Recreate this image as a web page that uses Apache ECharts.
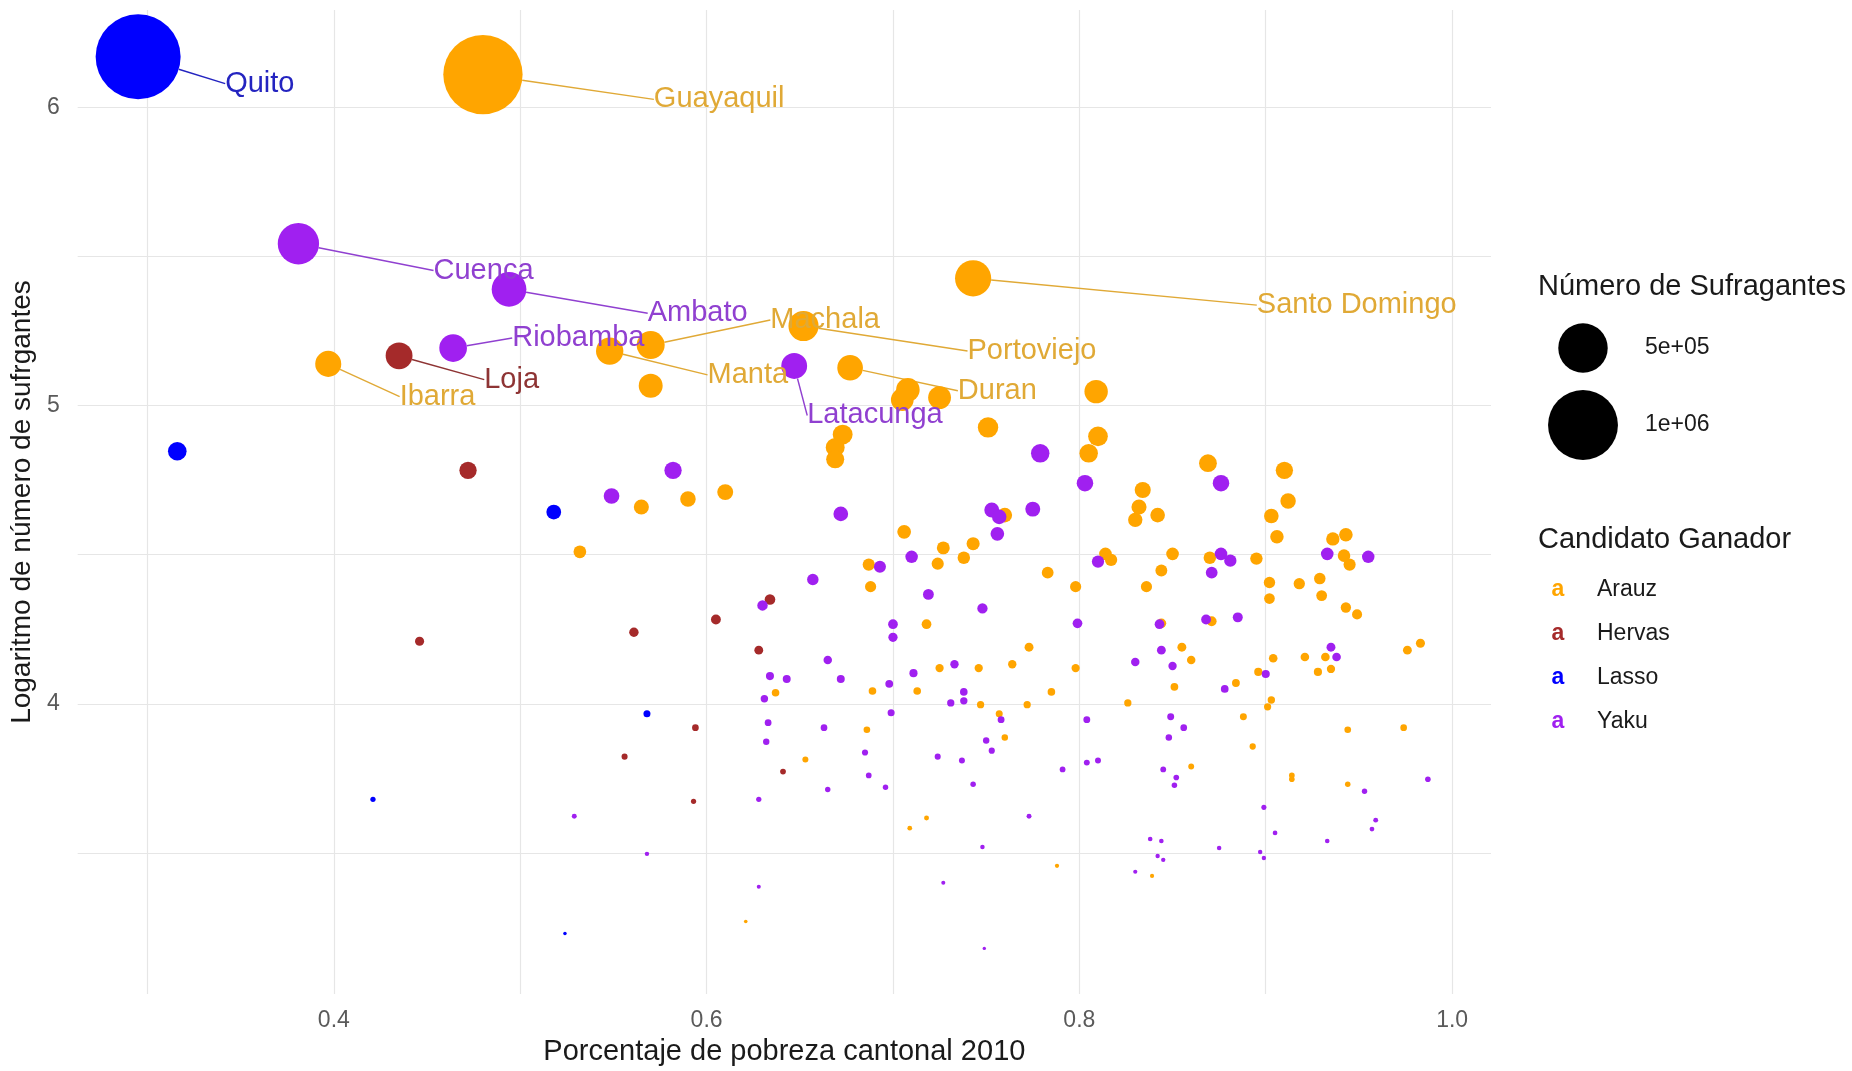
<!DOCTYPE html>
<html>
<head>
<meta charset="utf-8">
<script src="https://cdn.jsdelivr.net/npm/echarts@6/dist/echarts.min.js"></script>
<style>html,body{margin:0;padding:0;background:#fff;}#chart{width:1852px;height:1071px;}</style>
</head>
<body>
<div id="chart"></div>
<script>
// ---- Data: [pobreza 2010, log10(sufragantes), optional label] ----
const candidates = ['Arauz', 'Hervas', 'Lasso', 'Yaku'];

const lasso = [
  [0.295, 6.17, 'Quito'], [0.316, 4.847], [0.518, 4.643], [0.568, 3.967], [0.421, 3.68], [0.524, 3.23]
];

const hervas = [
  [0.435, 5.167, 'Loja'], [0.472, 4.783], [0.446, 4.21], [0.561, 4.24], [0.605, 4.283], [0.634, 4.35],
  [0.628, 4.18], [0.594, 3.92], [0.556, 3.823], [0.641, 3.773], [0.593, 3.673]
];

const yaku = [
  [0.381, 5.543, 'Cuenca'], [0.494, 5.39, 'Ambato'], [0.464, 5.193, 'Riobamba'], [0.647, 5.133, 'Latacunga'],
  [0.582, 4.783], [0.549, 4.697], [0.672, 4.637], [0.753, 4.65], [0.757, 4.627], [0.756, 4.57],
  [0.710, 4.493], [0.693, 4.46], [0.657, 4.417], [0.719, 4.367], [0.748, 4.32], [0.700, 4.267],
  [0.700, 4.223], [0.630, 4.33], [0.665, 4.147], [0.733, 4.133], [0.711, 4.103], [0.634, 4.093],
  [0.643, 4.083], [0.672, 4.083], [0.698, 4.067], [0.631, 4.017], [0.738, 4.04], [0.738, 4.01],
  [0.731, 4.003], [0.758, 3.947], [0.750, 3.877], [0.753, 3.843], [0.633, 3.937], [0.632, 3.873],
  [0.663, 3.92], [0.685, 3.837], [0.687, 3.76], [0.699, 3.97], [0.724, 3.823], [0.737, 3.81], [0.743, 3.73],
  [0.665, 3.713], [0.696, 3.72], [0.628, 3.68], [0.529, 3.623], [0.748, 3.52], [0.568, 3.497],
  [0.628, 3.387], [0.727, 3.40], [0.749, 3.18],
  [0.779, 4.84], [0.803, 4.74], [0.775, 4.653], [0.876, 4.74], [0.933, 4.503], [0.955, 4.493],
  [0.810, 4.477], [0.876, 4.503], [0.881, 4.48], [0.871, 4.44], [0.799, 4.27], [0.843, 4.267],
  [0.868, 4.283], [0.885, 4.29], [0.844, 4.18], [0.830, 4.14], [0.850, 4.127], [0.935, 4.19],
  [0.938, 4.157], [0.900, 4.10], [0.878, 4.05], [0.804, 3.947], [0.849, 3.957], [0.848, 3.887],
  [0.856, 3.92], [0.791, 3.78], [0.804, 3.803], [0.810, 3.81], [0.845, 3.78], [0.852, 3.753],
  [0.851, 3.727], [0.987, 3.747],
  [0.953, 3.707], [0.773, 3.623], [0.899, 3.653], [0.905, 3.567], [0.959, 3.61], [0.957, 3.58],
  [0.933, 3.54], [0.838, 3.547], [0.844, 3.54], [0.875, 3.517], [0.842, 3.49], [0.845, 3.477],
  [0.897, 3.503], [0.899, 3.483], [0.830, 3.437]
];

const arauz = [
  [0.480, 6.11, 'Guayaquil'], [0.743, 5.427, 'Santo Domingo'], [0.652, 5.267, 'Portoviejo'],
  [0.570, 5.203, 'Machala'], [0.548, 5.183, 'Manta'], [0.397, 5.14, 'Ibarra'], [0.677, 5.127, 'Duran'],
  [0.570, 5.067], [0.708, 5.053], [0.705, 5.02], [0.725, 5.027], [0.751, 4.927], [0.673, 4.903],
  [0.669, 4.86], [0.669, 4.82], [0.565, 4.66], [0.590, 4.687], [0.610, 4.71], [0.532, 4.51],
  [0.760, 4.633], [0.706, 4.577], [0.727, 4.523], [0.743, 4.537], [0.738, 4.49], [0.724, 4.47],
  [0.687, 4.467], [0.688, 4.393], [0.718, 4.267], [0.725, 4.12], [0.746, 4.12], [0.764, 4.133],
  [0.689, 4.043], [0.713, 4.043], [0.637, 4.037], [0.747, 3.997], [0.757, 3.967], [0.760, 3.887],
  [0.686, 3.913], [0.653, 3.813], [0.709, 3.583], [0.718, 3.617], [0.621, 3.27],
  [0.809, 5.047], [0.810, 4.897], [0.805, 4.84], [0.869, 4.807], [0.910, 4.783], [0.912, 4.68],
  [0.903, 4.63], [0.906, 4.56], [0.834, 4.717], [0.832, 4.66], [0.830, 4.617], [0.842, 4.633],
  [0.936, 4.553], [0.943, 4.567], [0.942, 4.497], [0.945, 4.467], [0.814, 4.503], [0.817, 4.483],
  [0.850, 4.503], [0.870, 4.49], [0.895, 4.487], [0.844, 4.447], [0.783, 4.44], [0.798, 4.393],
  [0.836, 4.393], [0.902, 4.407], [0.902, 4.353], [0.918, 4.403], [0.929, 4.42], [0.930, 4.363],
  [0.943, 4.323], [0.949, 4.30], [0.844, 4.27], [0.871, 4.277], [0.773, 4.19], [0.798, 4.12],
  [0.855, 4.19], [0.860, 4.147], [0.904, 4.153], [0.921, 4.157], [0.932, 4.157], [0.935, 4.117],
  [0.928, 4.107], [0.976, 4.18], [0.983, 4.203], [0.896, 4.107], [0.785, 4.04], [0.772, 3.997],
  [0.826, 4.003], [0.851, 4.057], [0.884, 4.07], [0.903, 4.013], [0.901, 3.99], [0.888, 3.957],
  [0.893, 3.857], [0.944, 3.913], [0.974, 3.92], [0.860, 3.79], [0.914, 3.76], [0.914, 3.747],
  [0.944, 3.73], [0.788, 3.457], [0.839, 3.423]
];

const xTickLabels = [0.4, 0.6, 0.8, 1.0];
const xGridValues = [0.3, 0.4, 0.5, 0.6, 0.7, 0.8, 0.9, 1.0];
const yTickLabels = [4, 5, 6];
const yGridValues = [3.5, 4, 4.5, 5, 5.5, 6];
const sizeLegendValues = [5e5, 1e6];
const sizeLegendLabels = ['5e+05', '1e+06'];

// label anchor (left-middle of text) in data space, ggrepel-like placement
const labelAnchors = {
  'Quito': [0.3417, 6.08], 'Guayaquil': [0.5717, 6.027], 'Cuenca': [0.4535, 5.453],
  'Ambato': [0.5684, 5.31], 'Machala': [0.6342, 5.287], 'Portoviejo': [0.740, 5.183],
  'Santo Domingo': [0.8952, 5.337], 'Riobamba': [0.4957, 5.227], 'Loja': [0.4807, 5.087],
  'Ibarra': [0.4353, 5.03], 'Manta': [0.6005, 5.103], 'Latacunga': [0.654, 4.967], 'Duran': [0.7348, 5.05]
};

// ---- Styles ----
const pointColor = { Arauz: '#FFA500', Hervas: '#A52A2A', Lasso: '#0000FF', Yaku: '#A020F0' };
const textColor = { Arauz: '#E0A936', Hervas: '#8E3434', Lasso: '#2424C0', Yaku: '#9040D0' };
const FONT = '"Liberation Sans", Arial, sans-serif';

// ggplot-like size scale (area linear in N)
const N_MIN = Math.pow(10, 3.18), N_MAX = Math.pow(10, 6.17), R_MIN = 1.7, R_MAX = 42.5;
function radiusOf(n) {
  const t = Math.max(0, (n - N_MIN) / (N_MAX - N_MIN));
  return Math.sqrt(R_MIN * R_MIN + (R_MAX * R_MAX - R_MIN * R_MIN) * t);
}

const seriesData = { Arauz: arauz, Hervas: hervas, Lasso: lasso, Yaku: yaku };

const chart = echarts.init(document.getElementById('chart'), null, { renderer: 'canvas' });

function buildSeries(anchorPx) {
  return candidates.map(c => ({
    name: c,
    type: 'scatter',
    symbol: 'circle',
    symbolSize: v => 2 * radiusOf(Math.pow(10, v[1])),
    itemStyle: { color: pointColor[c], opacity: 1 },
    emphasis: { disabled: true },
    data: seriesData[c].map(d => {
      const item = { value: [d[0], d[1]] };
      if (d[2]) {
        item.name = d[2];
        item.label = {
          show: true, formatter: d[2], color: textColor[c], fontSize: 29, fontFamily: FONT,
          position: 'right', distance: 0
        };
        item.labelLine = { show: true, length2: 0, lineStyle: { color: textColor[c], width: 1.4 } };
      }
      return item;
    }),
    labelLayout: function (params) {
      if (!anchorPx) return {};
      const item = seriesData[c][params.dataIndex];
      if (!item || !item[2] || !anchorPx[item[2]]) return {};
      const p = anchorPx[item[2]];
      return { x: p[0], y: p[1], align: 'left', verticalAlign: 'middle' };
    }
  }));
}

const legendGraphics = [];
legendGraphics.push({ type: 'text', x: 1538, y: 287, style: { text: 'Número de Sufragantes', fontSize: 29, fontFamily: FONT, fill: '#1a1a1a', verticalAlign: 'middle' } });
const sizeRowsY = [348, 425];
sizeLegendValues.forEach((v, i) => {
  legendGraphics.push({ type: 'circle', shape: { cx: 1583, cy: sizeRowsY[i], r: radiusOf(v) }, style: { fill: '#000' } });
  legendGraphics.push({ type: 'text', x: 1645, y: sizeRowsY[i], style: { text: sizeLegendLabels[i], fontSize: 23, fontFamily: FONT, fill: '#1a1a1a', verticalAlign: 'middle' } });
});
legendGraphics.push({ type: 'text', x: 1538, y: 540, style: { text: 'Candidato Ganador', fontSize: 29, fontFamily: FONT, fill: '#1a1a1a', verticalAlign: 'middle' } });
const candRowsY = [590, 634, 678, 722];
candidates.forEach((c, i) => {
  legendGraphics.push({ type: 'text', x: 1558, y: candRowsY[i], style: { text: 'a', fontSize: 23, fontWeight: 'bold', fontFamily: FONT, fill: pointColor[c], align: 'center', verticalAlign: 'middle' } });
  legendGraphics.push({ type: 'text', x: 1597, y: candRowsY[i], style: { text: c, fontSize: 23, fontFamily: FONT, fill: '#1a1a1a', verticalAlign: 'middle' } });
});

const option = {
  backgroundColor: '#ffffff',
  animation: false,
  grid: { left: 73, right: 361, top: 10, bottom: 71, containLabel: false },
  xAxis: {
    type: 'value', min: 0.26257, max: 1.02086,
    name: 'Porcentaje de pobreza cantonal 2010', nameLocation: 'middle', nameGap: 41,
    nameTextStyle: { fontSize: 29, fontFamily: FONT, color: '#1a1a1a' },
    axisLine: { show: false },
    axisTick: { show: false, customValues: xGridValues },
    axisLabel: { customValues: xTickLabels, formatter: v => v.toFixed(1), fontSize: 23, fontFamily: FONT, color: '#5a5a5a', margin: 15 },
    splitLine: { show: true, lineStyle: { color: '#E6E6E6', width: 1.2 } }
  },
  yAxis: {
    type: 'value', min: 3.0267, max: 6.3267,
    name: 'Logaritmo de número de sufrgantes', nameLocation: 'middle', nameGap: 35,
    nameTextStyle: { fontSize: 28, fontFamily: FONT, color: '#1a1a1a' },
    axisLine: { show: false },
    axisTick: { show: false, customValues: yGridValues },
    axisLabel: { customValues: yTickLabels, formatter: v => String(v), fontSize: 23, fontFamily: FONT, color: '#5a5a5a', margin: 18 },
    splitLine: { show: true, lineStyle: { color: '#E6E6E6', width: 1.2 } }
  },
  graphic: legendGraphics,
  series: buildSeries(null)
};

chart.setOption(option);

// second pass: place labels at their data-space anchors
const anchorPx = {};
Object.keys(labelAnchors).forEach(k => {
  anchorPx[k] = chart.convertToPixel({ xAxisIndex: 0, yAxisIndex: 0 }, labelAnchors[k]);
});
chart.setOption({ series: buildSeries(anchorPx) });
</script>
</body>
</html>
